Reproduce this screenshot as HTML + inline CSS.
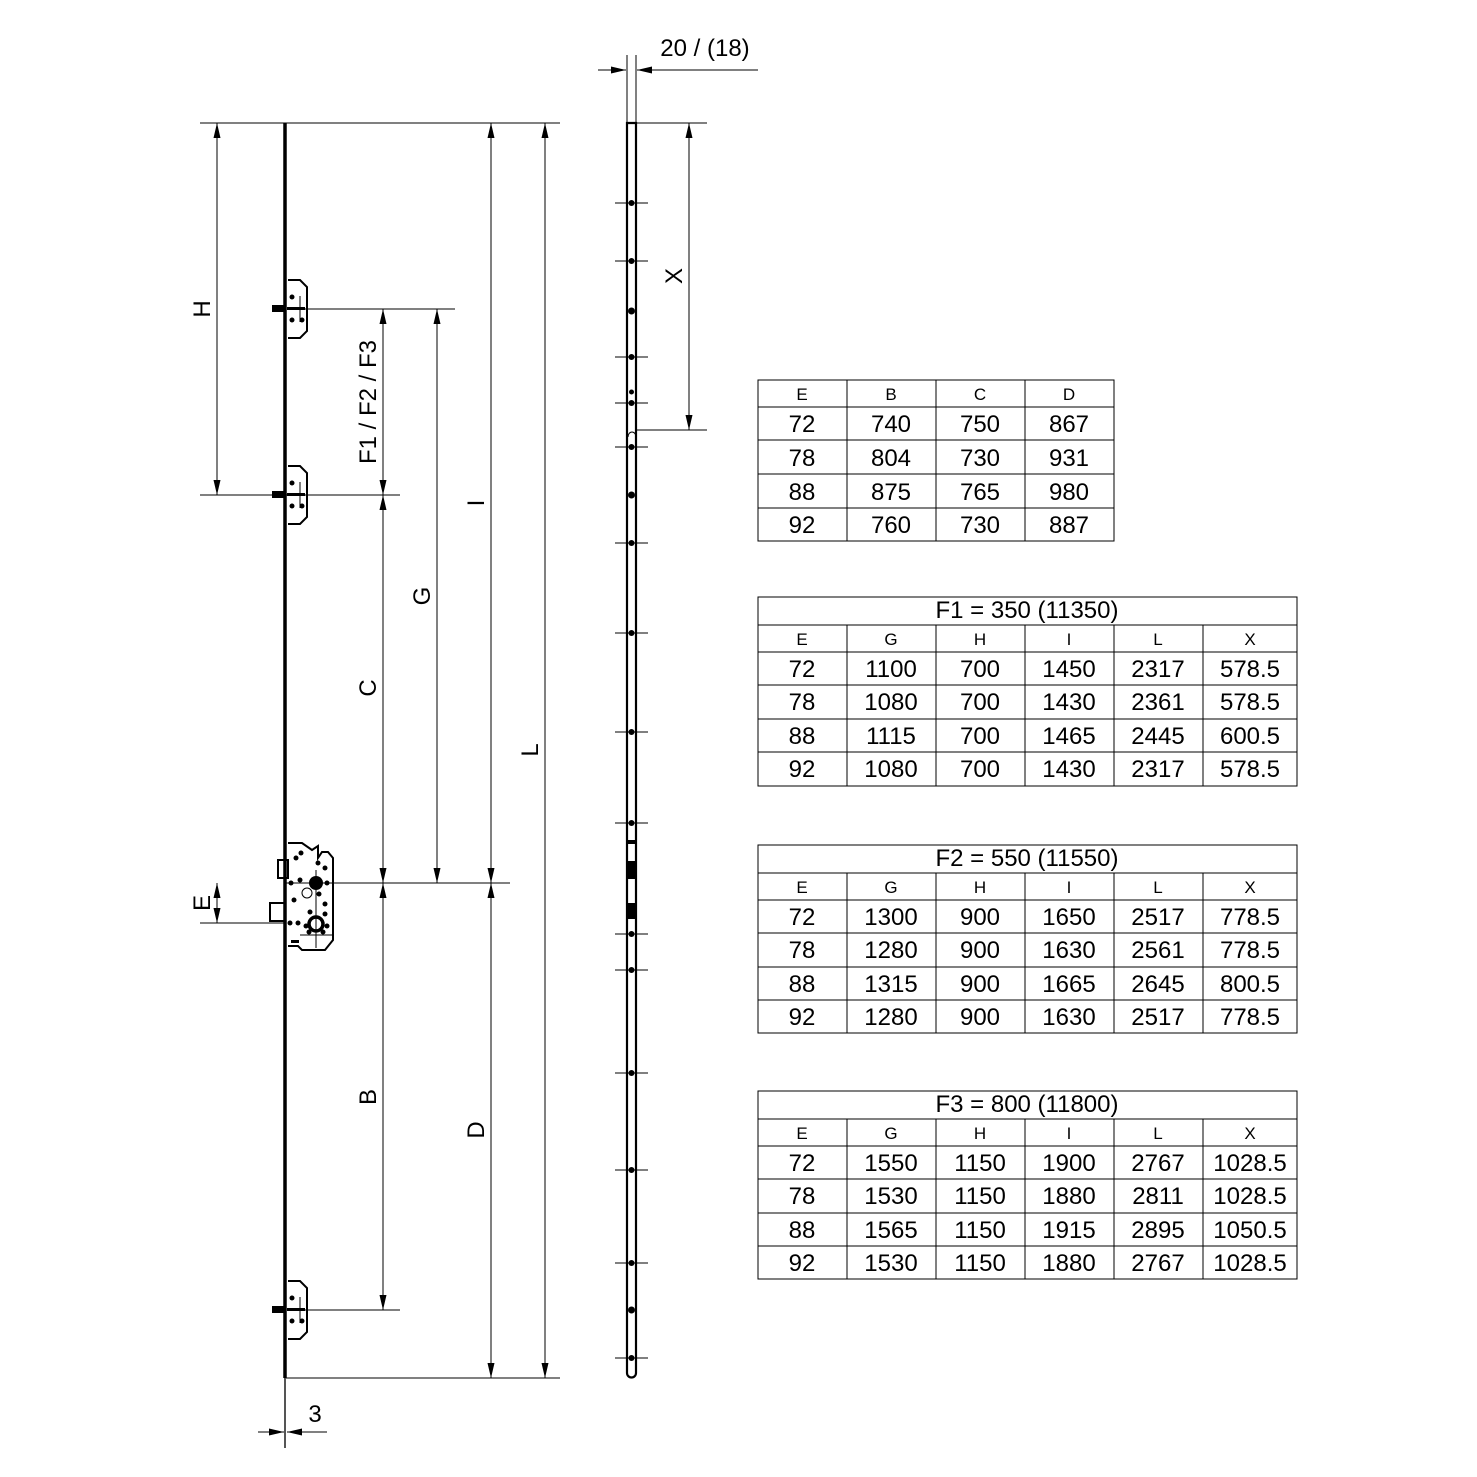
<!DOCTYPE html>
<html><head><meta charset="utf-8"><style>
html,body{margin:0;padding:0;background:#fff}
svg{display:block}
text{font-family:"Liberation Sans",Arial,sans-serif;fill:#000}
.v{font-size:24px;text-anchor:middle}
.h{font-size:17px;text-anchor:middle}
.d{font-size:24px;text-anchor:middle}
</style></head><body>
<svg width="1477" height="1477" viewBox="0 0 1477 1477" xmlns="http://www.w3.org/2000/svg">
<defs>
<marker id="a" viewBox="0 0 10 10" refX="10" refY="5" markerWidth="15" markerHeight="7" preserveAspectRatio="none" orient="auto-start-reverse" markerUnits="userSpaceOnUse"><path d="M0,0 L10,5 L0,10 z" fill="#000"/></marker>
</defs>
<g stroke="#000" stroke-width="1" fill="none">
<line x1="200" y1="123" x2="560" y2="123"/>
<line x1="290" y1="309" x2="455" y2="309"/>
<line x1="200" y1="495" x2="400" y2="495"/>
<line x1="285" y1="883" x2="510" y2="883"/>
<line x1="200" y1="923" x2="285" y2="923"/>
<line x1="290" y1="1310" x2="400" y2="1310"/>
<line x1="285" y1="1378" x2="560" y2="1378"/>
<line x1="217" y1="123" x2="217" y2="495" marker-start="url(#a)" marker-end="url(#a)"/>
<line x1="383" y1="309" x2="383" y2="495" marker-start="url(#a)" marker-end="url(#a)"/>
<line x1="383" y1="495" x2="383" y2="883" marker-start="url(#a)" marker-end="url(#a)"/>
<line x1="383" y1="883" x2="383" y2="1310" marker-start="url(#a)" marker-end="url(#a)"/>
<line x1="437" y1="309" x2="437" y2="883" marker-start="url(#a)" marker-end="url(#a)"/>
<line x1="491" y1="123" x2="491" y2="883" marker-start="url(#a)" marker-end="url(#a)"/>
<line x1="491" y1="883" x2="491" y2="1378" marker-start="url(#a)" marker-end="url(#a)"/>
<line x1="545" y1="123" x2="545" y2="1378" marker-start="url(#a)" marker-end="url(#a)"/>
<line x1="217" y1="883" x2="217" y2="923" marker-start="url(#a)" marker-end="url(#a)"/>
<line x1="285" y1="1378" x2="285" y2="1448" stroke="#555" stroke-width="2"/>
<line x1="258" y1="1432" x2="284" y2="1432" marker-end="url(#a)"/>
<line x1="327" y1="1432" x2="287" y2="1432" marker-end="url(#a)"/>
<line x1="285" y1="123" x2="285" y2="1378" stroke-width="3.5"/>
<path d="M288,280 H300 L307,287 V331 L300,338 H288" stroke-width="2"/>
<path d="M288,466 H300 L307,473 V517 L300,524 H288" stroke-width="2"/>
<path d="M288,1281 H300 L307,1288 V1332 L300,1339 H288" stroke-width="2"/>
<line x1="300" y1="296" x2="300" y2="322"/><line x1="300" y1="482" x2="300" y2="508"/><line x1="300" y1="1297" x2="300" y2="1323"/>
<path d="M288,843 H302 L312,850 L318,846 V858 L322,852 L328,852 L333,858 V940 L325,950 H302 L298,946 H288" stroke-width="2"/>
<rect x="270" y="903" width="15" height="18" stroke-width="2"/>
<rect x="278" y="860" width="10" height="18" stroke-width="2"/>
<line x1="316" y1="870" x2="316" y2="948"/>
<line x1="300" y1="935" x2="333" y2="935"/>
<line x1="627" y1="55" x2="627" y2="123"/>
<line x1="636" y1="55" x2="636" y2="123"/>
<line x1="598" y1="70" x2="626" y2="70" marker-end="url(#a)"/>
<line x1="758" y1="70" x2="637" y2="70" marker-end="url(#a)"/>
<path d="M627,123 H636 V1373 A4.5,4.5 0 0 1 627,1373 Z" stroke-width="2.2"/>
<line x1="636" y1="123" x2="707" y2="123"/>
<line x1="636" y1="430" x2="707" y2="430"/>
<line x1="689" y1="123" x2="689" y2="430" marker-start="url(#a)" marker-end="url(#a)"/>
<path d="M628,437 A4,5 0 0 1 636,437"/>
<g stroke-width="1">
<line x1="615" y1="203" x2="648" y2="203"/><line x1="615" y1="261" x2="648" y2="261"/>
<line x1="615" y1="357" x2="648" y2="357"/><line x1="615" y1="403" x2="648" y2="403"/>
<line x1="615" y1="447" x2="648" y2="447"/><line x1="615" y1="543" x2="648" y2="543"/>
<line x1="615" y1="633" x2="648" y2="633"/><line x1="615" y1="732" x2="648" y2="732"/>
<line x1="615" y1="823" x2="648" y2="823"/><line x1="615" y1="934" x2="648" y2="934"/>
<line x1="615" y1="970" x2="648" y2="970"/><line x1="615" y1="1073" x2="648" y2="1073"/>
<line x1="615" y1="1170" x2="648" y2="1170"/><line x1="615" y1="1263" x2="648" y2="1263"/>
<line x1="615" y1="1358" x2="648" y2="1358"/>
</g>
</g>
<g fill="#000">
<circle cx="631.5" cy="203" r="3"/><circle cx="631.5" cy="261" r="3"/><circle cx="631.5" cy="311" r="3.5"/>
<circle cx="631.5" cy="357" r="3"/><circle cx="631.5" cy="392" r="2.5"/><circle cx="631.5" cy="403" r="3"/>
<circle cx="631.5" cy="447" r="3"/><circle cx="631.5" cy="495" r="3.5"/><circle cx="631.5" cy="543" r="3"/>
<circle cx="631.5" cy="633" r="3"/><circle cx="631.5" cy="732" r="3"/><circle cx="631.5" cy="823" r="3"/>
<rect x="628" y="840" width="7" height="4"/><rect x="628" y="861" width="7" height="18"/><rect x="628" y="903" width="7" height="16"/>
<circle cx="631.5" cy="934" r="3"/><circle cx="631.5" cy="970" r="3"/><circle cx="631.5" cy="1073" r="3"/>
<circle cx="631.5" cy="1170" r="3"/><circle cx="631.5" cy="1263" r="3"/><circle cx="631.5" cy="1310" r="3.5"/><circle cx="631.5" cy="1358" r="3"/>
<rect x="272" y="305" width="14" height="7"/><rect x="272" y="491" width="14" height="7"/><rect x="272" y="1306" width="14" height="7"/>
<rect x="287" y="307" width="18" height="3"/><rect x="287" y="493" width="18" height="3"/><rect x="287" y="1308" width="18" height="3"/>
<circle cx="292" cy="297" r="2.5"/><circle cx="292" cy="320" r="2.5"/><circle cx="302" cy="320" r="2.5"/>
<circle cx="292" cy="483" r="2.5"/><circle cx="292" cy="506" r="2.5"/><circle cx="302" cy="506" r="2.5"/>
<circle cx="292" cy="1298" r="2.5"/><circle cx="292" cy="1321" r="2.5"/><circle cx="302" cy="1321" r="2.5"/>
<circle cx="316" cy="883" r="7"/><circle cx="307" cy="893" r="5" fill="none" stroke="#000"/><circle cx="316" cy="924" r="7" fill="none" stroke="#000" stroke-width="3.5"/>
<circle cx="301" cy="853" r="2.5"/><circle cx="296" cy="858" r="2.5"/><circle cx="318" cy="863" r="2.5"/><circle cx="325" cy="868" r="2.5"/>
<circle cx="291" cy="883" r="2.5"/><circle cx="300" cy="880" r="2.5"/><circle cx="327" cy="883" r="2.5"/><circle cx="319" cy="894" r="2.5"/>
<circle cx="294" cy="900" r="2.5"/><circle cx="325" cy="904" r="2.5"/><circle cx="310" cy="912" r="2.5"/><circle cx="325" cy="914" r="2.5"/>
<circle cx="290" cy="923" r="2.5"/><circle cx="298" cy="923" r="2.5"/><circle cx="306" cy="926" r="2.5"/><circle cx="327" cy="926" r="2.5"/>
<circle cx="309" cy="932" r="2.5"/><circle cx="323" cy="932" r="2.5"/>
<rect x="291" y="940" width="8" height="3"/>
</g>
<text class="d" transform="translate(210,309) rotate(-90)">H</text>
<text class="d" transform="translate(376,402) rotate(-90)">F1 / F2 / F3</text>
<text class="d" transform="translate(376,688) rotate(-90)">C</text>
<text class="d" transform="translate(376,1097) rotate(-90)">B</text>
<text class="d" transform="translate(430,596) rotate(-90)">G</text>
<text class="d" transform="translate(484,503) rotate(-90)">I</text>
<text class="d" transform="translate(484,1130) rotate(-90)">D</text>
<text class="d" transform="translate(538,750) rotate(-90)">L</text>
<text class="d" transform="translate(210,903) rotate(-90)">E</text>
<text class="d" transform="translate(682,276) rotate(-90)">X</text>
<text class="d" x="315" y="1422">3</text>
<text class="d" x="705" y="56">20 / (18)</text>

<g stroke="#000" stroke-width="1" fill="none">
<rect x="758" y="380" width="356" height="161"/>
<line x1="758" y1="407" x2="1114" y2="407"/><line x1="758" y1="440" x2="1114" y2="440"/><line x1="758" y1="474" x2="1114" y2="474"/><line x1="758" y1="508" x2="1114" y2="508"/>
<line x1="847" y1="380" x2="847" y2="541"/><line x1="936" y1="380" x2="936" y2="541"/><line x1="1025" y1="380" x2="1025" y2="541"/>
</g>
<text class="h" x="802" y="400">E</text><text class="h" x="891" y="400">B</text><text class="h" x="980" y="400">C</text><text class="h" x="1069" y="400">D</text>
<text class="v" x="802" y="432">72</text><text class="v" x="891" y="432">740</text><text class="v" x="980" y="432">750</text><text class="v" x="1069" y="432">867</text>
<text class="v" x="802" y="466">78</text><text class="v" x="891" y="466">804</text><text class="v" x="980" y="466">730</text><text class="v" x="1069" y="466">931</text>
<text class="v" x="802" y="500">88</text><text class="v" x="891" y="500">875</text><text class="v" x="980" y="500">765</text><text class="v" x="1069" y="500">980</text>
<text class="v" x="802" y="533">92</text><text class="v" x="891" y="533">760</text><text class="v" x="980" y="533">730</text><text class="v" x="1069" y="533">887</text>

<g stroke="#000" stroke-width="1" fill="none">
<rect x="758" y="597" width="539" height="189"/>
<line x1="758" y1="625" x2="1297" y2="625"/><line x1="758" y1="652" x2="1297" y2="652"/><line x1="758" y1="685" x2="1297" y2="685"/><line x1="758" y1="719" x2="1297" y2="719"/><line x1="758" y1="752" x2="1297" y2="752"/>
<line x1="847" y1="625" x2="847" y2="786"/><line x1="936" y1="625" x2="936" y2="786"/><line x1="1025" y1="625" x2="1025" y2="786"/><line x1="1114" y1="625" x2="1114" y2="786"/><line x1="1203" y1="625" x2="1203" y2="786"/>
</g>
<text class="v" x="1027" y="618">F1 = 350 (11350)</text>
<text class="h" x="802" y="645">E</text><text class="h" x="891" y="645">G</text><text class="h" x="980" y="645">H</text><text class="h" x="1069" y="645">I</text><text class="h" x="1158" y="645">L</text><text class="h" x="1250" y="645">X</text>
<text class="v" x="802" y="677">72</text><text class="v" x="891" y="677">1100</text><text class="v" x="980" y="677">700</text><text class="v" x="1069" y="677">1450</text><text class="v" x="1158" y="677">2317</text><text class="v" x="1250" y="677">578.5</text>
<text class="v" x="802" y="710">78</text><text class="v" x="891" y="710">1080</text><text class="v" x="980" y="710">700</text><text class="v" x="1069" y="710">1430</text><text class="v" x="1158" y="710">2361</text><text class="v" x="1250" y="710">578.5</text>
<text class="v" x="802" y="744">88</text><text class="v" x="891" y="744">1115</text><text class="v" x="980" y="744">700</text><text class="v" x="1069" y="744">1465</text><text class="v" x="1158" y="744">2445</text><text class="v" x="1250" y="744">600.5</text>
<text class="v" x="802" y="777">92</text><text class="v" x="891" y="777">1080</text><text class="v" x="980" y="777">700</text><text class="v" x="1069" y="777">1430</text><text class="v" x="1158" y="777">2317</text><text class="v" x="1250" y="777">578.5</text>

<g stroke="#000" stroke-width="1" fill="none">
<rect x="758" y="845" width="539" height="188"/>
<line x1="758" y1="873" x2="1297" y2="873"/><line x1="758" y1="900" x2="1297" y2="900"/><line x1="758" y1="933" x2="1297" y2="933"/><line x1="758" y1="967" x2="1297" y2="967"/><line x1="758" y1="1000" x2="1297" y2="1000"/>
<line x1="847" y1="873" x2="847" y2="1033"/><line x1="936" y1="873" x2="936" y2="1033"/><line x1="1025" y1="873" x2="1025" y2="1033"/><line x1="1114" y1="873" x2="1114" y2="1033"/><line x1="1203" y1="873" x2="1203" y2="1033"/>
</g>
<text class="v" x="1027" y="866">F2 = 550 (11550)</text>
<text class="h" x="802" y="893">E</text><text class="h" x="891" y="893">G</text><text class="h" x="980" y="893">H</text><text class="h" x="1069" y="893">I</text><text class="h" x="1158" y="893">L</text><text class="h" x="1250" y="893">X</text>
<text class="v" x="802" y="925">72</text><text class="v" x="891" y="925">1300</text><text class="v" x="980" y="925">900</text><text class="v" x="1069" y="925">1650</text><text class="v" x="1158" y="925">2517</text><text class="v" x="1250" y="925">778.5</text>
<text class="v" x="802" y="958">78</text><text class="v" x="891" y="958">1280</text><text class="v" x="980" y="958">900</text><text class="v" x="1069" y="958">1630</text><text class="v" x="1158" y="958">2561</text><text class="v" x="1250" y="958">778.5</text>
<text class="v" x="802" y="992">88</text><text class="v" x="891" y="992">1315</text><text class="v" x="980" y="992">900</text><text class="v" x="1069" y="992">1665</text><text class="v" x="1158" y="992">2645</text><text class="v" x="1250" y="992">800.5</text>
<text class="v" x="802" y="1025">92</text><text class="v" x="891" y="1025">1280</text><text class="v" x="980" y="1025">900</text><text class="v" x="1069" y="1025">1630</text><text class="v" x="1158" y="1025">2517</text><text class="v" x="1250" y="1025">778.5</text>

<g stroke="#000" stroke-width="1" fill="none">
<rect x="758" y="1091" width="539" height="188"/>
<line x1="758" y1="1119" x2="1297" y2="1119"/><line x1="758" y1="1146" x2="1297" y2="1146"/><line x1="758" y1="1179" x2="1297" y2="1179"/><line x1="758" y1="1213" x2="1297" y2="1213"/><line x1="758" y1="1246" x2="1297" y2="1246"/>
<line x1="847" y1="1119" x2="847" y2="1279"/><line x1="936" y1="1119" x2="936" y2="1279"/><line x1="1025" y1="1119" x2="1025" y2="1279"/><line x1="1114" y1="1119" x2="1114" y2="1279"/><line x1="1203" y1="1119" x2="1203" y2="1279"/>
</g>
<text class="v" x="1027" y="1112">F3 = 800 (11800)</text>
<text class="h" x="802" y="1139">E</text><text class="h" x="891" y="1139">G</text><text class="h" x="980" y="1139">H</text><text class="h" x="1069" y="1139">I</text><text class="h" x="1158" y="1139">L</text><text class="h" x="1250" y="1139">X</text>
<text class="v" x="802" y="1171">72</text><text class="v" x="891" y="1171">1550</text><text class="v" x="980" y="1171">1150</text><text class="v" x="1069" y="1171">1900</text><text class="v" x="1158" y="1171">2767</text><text class="v" x="1250" y="1171">1028.5</text>
<text class="v" x="802" y="1204">78</text><text class="v" x="891" y="1204">1530</text><text class="v" x="980" y="1204">1150</text><text class="v" x="1069" y="1204">1880</text><text class="v" x="1158" y="1204">2811</text><text class="v" x="1250" y="1204">1028.5</text>
<text class="v" x="802" y="1238">88</text><text class="v" x="891" y="1238">1565</text><text class="v" x="980" y="1238">1150</text><text class="v" x="1069" y="1238">1915</text><text class="v" x="1158" y="1238">2895</text><text class="v" x="1250" y="1238">1050.5</text>
<text class="v" x="802" y="1271">92</text><text class="v" x="891" y="1271">1530</text><text class="v" x="980" y="1271">1150</text><text class="v" x="1069" y="1271">1880</text><text class="v" x="1158" y="1271">2767</text><text class="v" x="1250" y="1271">1028.5</text>
</svg>
</body></html>
